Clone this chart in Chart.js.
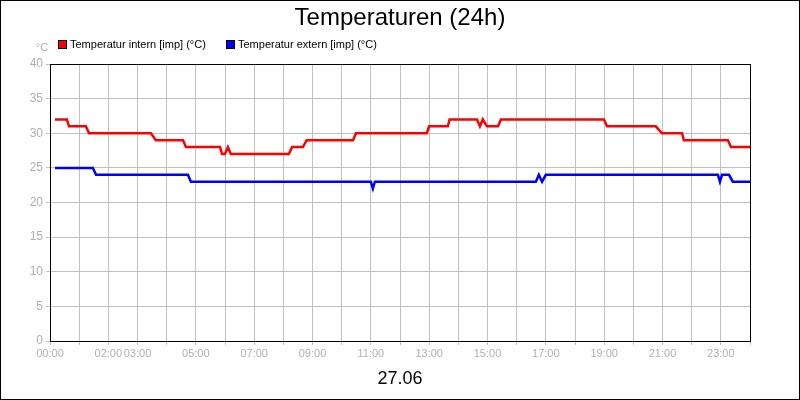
<!DOCTYPE html>
<html>
<head>
<meta charset="utf-8">
<script src="https://cdn.jsdelivr.net/npm/chart.js@4/dist/chart.umd.min.js"></script>
<style>
  body { margin: 0; background: #fff; }
  #wrap { width: 800px; height: 400px; }
</style>
</head>
<body>
<div id="wrap"><canvas id="chart" width="800" height="400"></canvas></div>
<script>
// hours of day and temperatures
const internHours = [0.17, 0.58, 0.65, 1.23, 1.34, 3.46, 3.63, 4.56, 4.66, 5.83, 5.9, 6.0, 6.1, 6.2, 8.19, 8.3, 8.67, 8.8, 10.39, 10.49, 12.92, 13.0, 13.64, 13.7, 14.64, 14.74, 14.84, 14.98, 15.36, 15.46, 18.99, 19.1, 20.77, 20.98, 21.67, 21.73, 23.24, 23.35, 24];
const internTemp  = [32, 32, 31, 31, 30, 30, 29, 29, 28, 28, 27, 27, 28, 27, 27, 28, 28, 29, 29, 30, 30, 31, 31, 32, 32, 31, 32, 31, 31, 32, 32, 31, 31, 30, 30, 29, 29, 28, 28];

const externHours = [0.17, 1.47, 1.58, 4.73, 4.83, 11.0, 11.07, 11.14, 16.66, 16.76, 16.87, 17.0, 22.9, 22.97, 23.04, 23.28, 23.41, 24];
const externTemp  = [25, 25, 24, 24, 23, 23, 22, 23, 23, 24, 23, 24, 24, 23, 24, 24, 23, 23];

const labelHours = [0, 2, 3, 5, 7, 9, 11, 13, 15, 17, 19, 21, 23];
const seriesNames = ['Temperatur intern [imp] (°C)', 'Temperatur extern [imp] (°C)'];
const seriesColors = ['#ff0000', '#0000ff'];

function toPoints(hours, temps) {
  return hours.map((h, i) => ({ x: h, y: temps[i] }));
}

function pad(n) { return (n < 10 ? '0' : '') + n + ':00'; }

const decor = {
  id: 'decor',
  afterDraw(chart) {
    const ctx = chart.ctx;
    const a = chart.chartArea;
    ctx.save();
    ctx.strokeStyle = '#000';
    ctx.lineWidth = 1;
    ctx.strokeRect(a.left + 0.5, a.top + 0.5, a.right - a.left, a.bottom - a.top);
    ctx.strokeRect(0.5, 0.5, 799, 399);

    ctx.fillStyle = '#000';
    ctx.textAlign = 'center';
    ctx.textBaseline = 'middle';
    ctx.font = '24px "Liberation Sans", Arial, sans-serif';
    ctx.fillText('Temperaturen (24h)', 400, 18);
    ctx.font = '18px "Liberation Sans", Arial, sans-serif';
    ctx.fillText('27.06', 400, 379);

    ctx.font = '11px "Liberation Sans", Arial, sans-serif';
    ctx.fillStyle = '#b0b0b0';
    ctx.fillText('°C', 42, 48);

    ctx.textAlign = 'left';
    let x = 58;
    seriesNames.forEach((name, i) => {
      ctx.fillStyle = '#000';
      ctx.fillRect(x, 40, 9, 9);
      ctx.fillStyle = seriesColors[i];
      ctx.fillRect(x + 1, 41, 7, 7);
      ctx.fillStyle = '#000';
      ctx.fillText(name, x + 12, 45);
      x = 226;
    });
    ctx.restore();
  }
};

new Chart(document.getElementById('chart'), {
  type: 'line',
  data: {
    datasets: [
      { label: seriesNames[0], data: toPoints(internHours, internTemp), borderColor: seriesColors[0], borderWidth: 2.5, pointRadius: 0 },
      { label: seriesNames[1], data: toPoints(externHours, externTemp), borderColor: seriesColors[1], borderWidth: 2.5, pointRadius: 0 },
    ],
  },
  options: {
    responsive: false,
    animation: false,
    layout: { padding: { top: 64, right: 50, left: 0, bottom: 0 } },
    plugins: { legend: { display: false }, title: { display: false }, tooltip: { enabled: false } },
    scales: {
      x: {
        type: 'linear',
        min: 0,
        max: 24,
        afterFit(scale) { scale.height = 59; },
        grid: { color: '#c0c0c0', tickLength: 4 },
        border: { display: false },
        ticks: {
          stepSize: 1,
          autoSkip: false,
          maxRotation: 0,
          padding: 2,
          color: '#b0b0b0',
          font: { size: 11, family: '"Liberation Sans Narrow", "Liberation Sans", sans-serif' },
          callback: (v) => (labelHours.includes(v) ? pad(v) : ''),
        },
      },
      y: {
        min: 0,
        max: 40,
        afterFit(scale) { scale.width = 50; },
        grid: { color: '#c0c0c0', tickLength: 4 },
        border: { display: false },
        ticks: {
          stepSize: 5,
          padding: 3,
          color: '#b0b0b0',
          font: { size: 12, family: '"Liberation Sans", sans-serif' },
        },
      },
    },
  },
  plugins: [decor],
});
</script>
</body>
</html>
